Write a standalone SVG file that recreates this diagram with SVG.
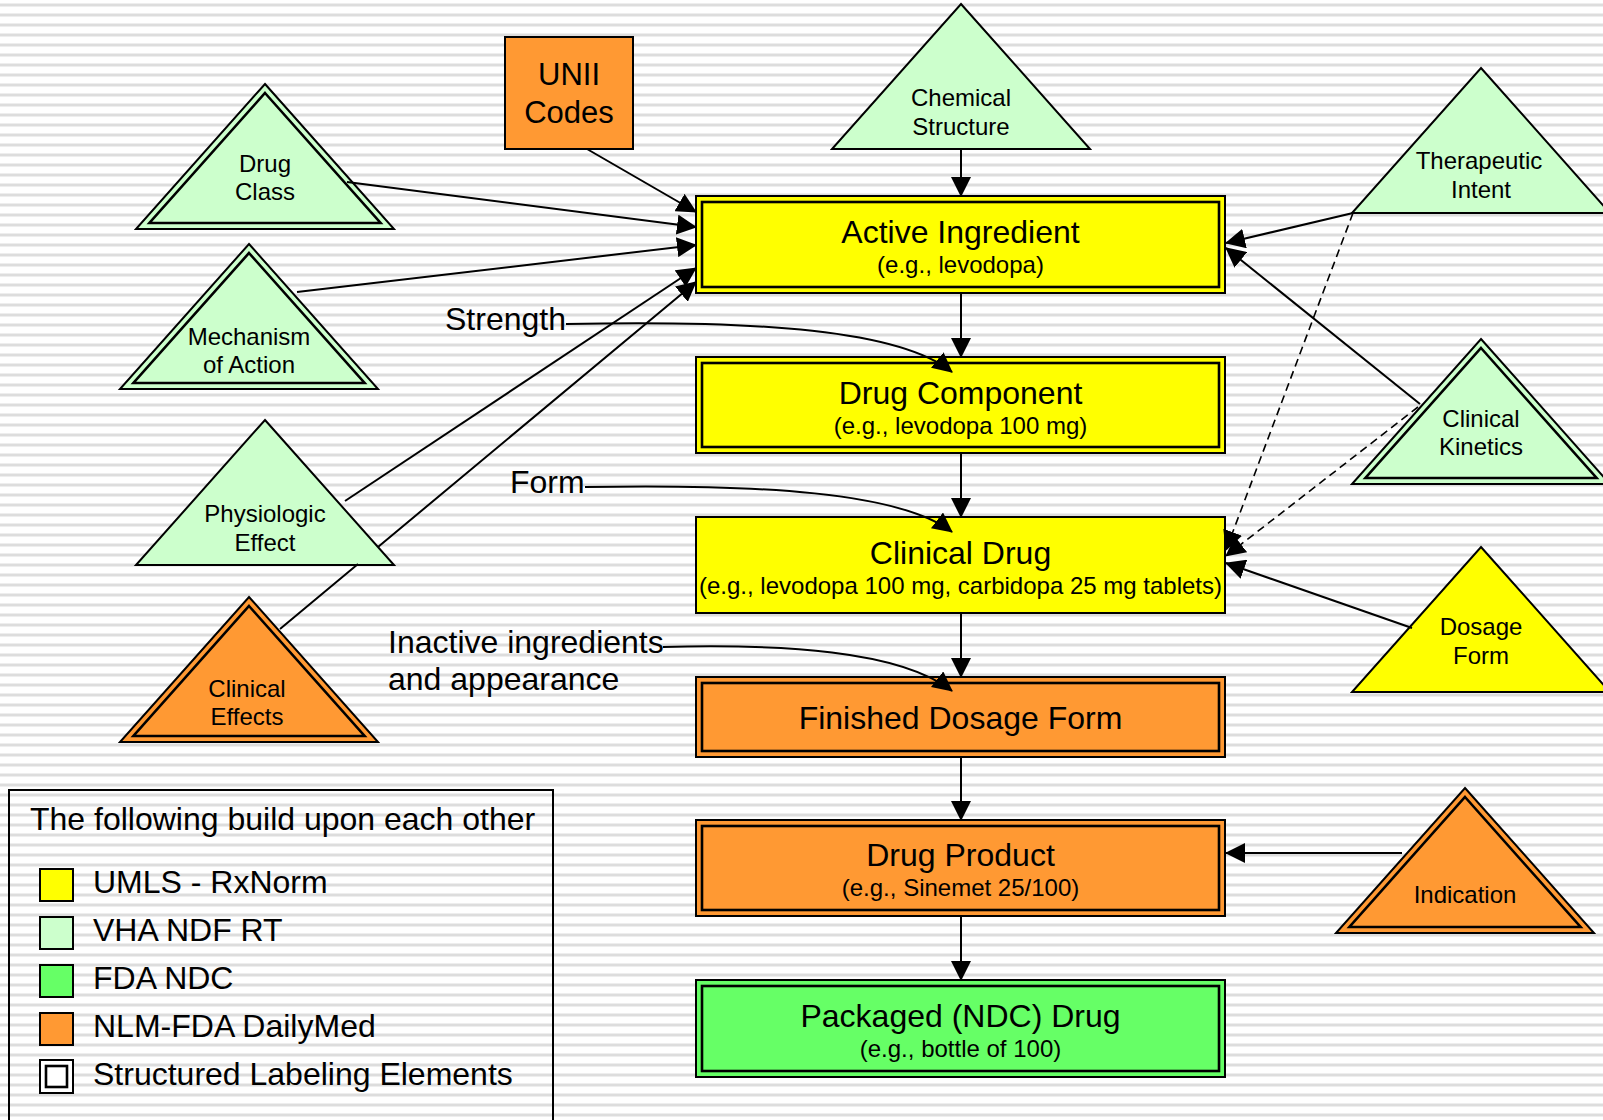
<svg xmlns="http://www.w3.org/2000/svg" xmlns:xlink="http://www.w3.org/1999/xlink" width="1603" height="1120" viewBox="0 0 1603 1120">
  <style>
    text { font-family: "Liberation Sans", Arial, sans-serif; fill: #000; }
    .t32 { font-size: 32px; }
    .t24 { font-size: 24px; }
    .t31 { font-size: 31px; }
    .mid { text-anchor: middle; }
    .edge { fill: none; stroke: #000; stroke-width: 2; }
    .dash { fill: none; stroke: #000; stroke-width: 1.6; stroke-dasharray: 8 5; }
    .outer { stroke: #000; stroke-width: 2; }
    .inner { fill: none; stroke: #000; stroke-width: 2.6; }
    .yellow { fill: #ffff00; }
    .mint { fill: #ccffcc; }
    .orange { fill: #ff9933; }
    .green { fill: #66ff66; }
  </style>
  <defs>
    <pattern id="stripes" width="10" height="10" patternUnits="userSpaceOnUse">
      <rect width="10" height="10" fill="#ffffff"/>
      <rect y="3" width="10" height="1" fill="#eeeeee"/>
      <rect y="4" width="10" height="2" fill="#dddddd"/>
      <rect y="6" width="10" height="1" fill="#eeeeee"/>
    </pattern>
    <marker id="arrow" viewBox="0 0 20 20" markerWidth="20" markerHeight="20" refX="19" refY="10" orient="auto" markerUnits="userSpaceOnUse">
      <path d="M0,0 L20,10 L0,20 Z" fill="#000"/>
    </marker>
    <!-- triangle shapes, origin at the apex -->
    <path id="tri" d="M0,0 L129,145 L-129,145 Z"/>
    <path id="tri-in" d="M0,9 L115.6,139 L-115.6,139 Z"/>
  </defs>

  <rect width="1603" height="1120" fill="url(#stripes)"/>

  <!-- left-side source triangles -->
  <g id="drug-class" transform="translate(265,84)">
    <use xlink:href="#tri" class="mint outer"/>
    <use xlink:href="#tri-in" class="inner"/>
    <text class="t24 mid" x="0" y="88">Drug</text>
    <text class="t24 mid" x="0" y="116">Class</text>
  </g>
  <g id="mechanism-of-action" transform="translate(249,244)">
    <use xlink:href="#tri" class="mint outer"/>
    <use xlink:href="#tri-in" class="inner"/>
    <text class="t24 mid" x="0" y="101">Mechanism</text>
    <text class="t24 mid" x="0" y="129">of Action</text>
  </g>
  <g id="physiologic-effect" transform="translate(265,420)">
    <use xlink:href="#tri" class="mint outer"/>
    <text class="t24 mid" x="0" y="102">Physiologic</text>
    <text class="t24 mid" x="0" y="131">Effect</text>
  </g>
  <g id="clinical-effects" transform="translate(249,597)">
    <use xlink:href="#tri" class="orange outer"/>
    <use xlink:href="#tri-in" class="inner"/>
    <text class="t24 mid" x="-2" y="100">Clinical</text>
    <text class="t24 mid" x="-2" y="128">Effects</text>
  </g>

  <g id="unii-codes">
    <rect x="505" y="37" width="128" height="112" class="orange outer"/>
    <text class="t31 mid" x="569" y="85">UNII</text>
    <text class="t31 mid" x="569" y="123">Codes</text>
  </g>

  <g id="chemical-structure" transform="translate(961,4)">
    <use xlink:href="#tri" class="mint outer"/>
    <text class="t24 mid" x="0" y="102">Chemical</text>
    <text class="t24 mid" x="0" y="131">Structure</text>
  </g>

  <!-- right-side source triangles -->
  <g id="therapeutic-intent" transform="translate(1481,68)">
    <use xlink:href="#tri" class="mint outer"/>
    <text class="t24 mid" x="-2" y="101">Therapeutic</text>
    <text class="t24 mid" x="0" y="130">Intent</text>
  </g>
  <g id="clinical-kinetics" transform="translate(1481,339)">
    <use xlink:href="#tri" class="mint outer"/>
    <use xlink:href="#tri-in" class="inner"/>
    <text class="t24 mid" x="0" y="88">Clinical</text>
    <text class="t24 mid" x="0" y="116">Kinetics</text>
  </g>
  <g id="dosage-form" transform="translate(1481,547)">
    <use xlink:href="#tri" class="yellow outer"/>
    <text class="t24 mid" x="0" y="88">Dosage</text>
    <text class="t24 mid" x="0" y="117">Form</text>
  </g>
  <g id="indication" transform="translate(1465,788)">
    <use xlink:href="#tri" class="orange outer"/>
    <use xlink:href="#tri-in" class="inner"/>
    <text class="t24 mid" x="0" y="115">Indication</text>
  </g>

  <!-- central chain of concepts -->
  <g id="active-ingredient">
    <rect x="696" y="196" width="529" height="97" class="yellow outer"/>
    <rect x="702" y="202" width="517" height="85" class="inner"/>
    <text class="t32 mid" x="960.5" y="243">Active Ingredient</text>
    <text class="t24 mid" x="960.5" y="273">(e.g., levodopa)</text>
  </g>
  <g id="drug-component">
    <rect x="696" y="357" width="529" height="96" class="yellow outer"/>
    <rect x="702" y="363" width="517" height="84" class="inner"/>
    <text class="t32 mid" x="960.5" y="404">Drug Component</text>
    <text class="t24 mid" x="960.5" y="434">(e.g., levodopa 100 mg)</text>
  </g>
  <g id="clinical-drug">
    <rect x="696" y="517" width="529" height="96" class="yellow outer" stroke-width="2.4"/>
    <text class="t32 mid" x="960.5" y="564">Clinical Drug</text>
    <text class="t24 mid" x="960.5" y="594">(e.g., levodopa 100 mg, carbidopa 25 mg tablets)</text>
  </g>
  <g id="finished-dosage-form">
    <rect x="696" y="677" width="529" height="80" class="orange outer"/>
    <rect x="702" y="683" width="517" height="68" class="inner"/>
    <text class="t32 mid" x="960.5" y="729">Finished Dosage Form</text>
  </g>
  <g id="drug-product">
    <rect x="696" y="820" width="529" height="96" class="orange outer"/>
    <rect x="702" y="826" width="517" height="84" class="inner"/>
    <text class="t32 mid" x="960.5" y="866">Drug Product</text>
    <text class="t24 mid" x="960.5" y="896">(e.g., Sinemet 25/100)</text>
  </g>
  <g id="packaged-drug">
    <rect x="696" y="980" width="529" height="97" class="green outer"/>
    <rect x="702" y="986" width="517" height="85" class="inner"/>
    <text class="t32 mid" x="960.5" y="1027">Packaged (NDC) Drug</text>
    <text class="t24 mid" x="960.5" y="1057">(e.g., bottle of 100)</text>
  </g>

  <!-- attribute labels feeding the chain -->
  <g id="strength-label"><text class="t32" x="445" y="330">Strength</text></g>
  <g id="form-label"><text class="t32" x="510" y="493">Form</text></g>
  <g id="inactive-label">
    <text class="t32" x="388" y="653">Inactive ingredients</text>
    <text class="t32" x="388" y="690">and appearance</text>
  </g>

  <g id="connectors">
    <!-- chain -->
    <path class="edge" d="M961,149 L961,196" marker-end="url(#arrow)"/>
    <path class="edge" d="M961,293 L961,357" marker-end="url(#arrow)"/>
    <path class="edge" d="M961,453 L961,517" marker-end="url(#arrow)"/>
    <path class="edge" d="M961,613 L961,677" marker-end="url(#arrow)"/>
    <path class="edge" d="M961,757 L961,820" marker-end="url(#arrow)"/>
    <path class="edge" d="M961,916 L961,980" marker-end="url(#arrow)"/>
    <!-- into Active Ingredient from the left -->
    <path class="edge" d="M587,149 L696,212" marker-end="url(#arrow)"/>
    <path class="edge" d="M347,182 L696,227" marker-end="url(#arrow)"/>
    <path class="edge" d="M297,292 L696,245" marker-end="url(#arrow)"/>
    <path class="edge" d="M345,501 L696,268" marker-end="url(#arrow)"/>
    <path class="edge" d="M280,629 L358,564 M378,547 L696,282" marker-end="url(#arrow)"/>
    <!-- attribute curves -->
    <path class="edge" d="M566,324 C760,320 900,330 952,372" marker-end="url(#arrow)"/>
    <path class="edge" d="M585,487 C760,484 900,492 952,532" marker-end="url(#arrow)"/>
    <path class="edge" d="M663,647 C780,644 900,650 952,691" marker-end="url(#arrow)"/>
    <!-- right side -->
    <path class="edge" d="M1353,213 L1226,243" marker-end="url(#arrow)"/>
    <path class="edge" d="M1420,404 L1226,248" marker-end="url(#arrow)"/>
    <path class="dash" d="M1353,213 L1226,550" marker-end="url(#arrow)"/>
    <path class="dash" d="M1418,407 L1226,556" marker-end="url(#arrow)"/>
    <path class="edge" d="M1412,628 L1226,563" marker-end="url(#arrow)"/>
    <path class="edge" d="M1402,853 L1226,853" marker-end="url(#arrow)"/>
  </g>

  <!-- legend -->
  <g id="legend">
    <rect x="9" y="790" width="544" height="340" fill="none" stroke="#000" stroke-width="2"/>
    <text class="t32" x="30" y="830">The following build upon each other</text>
    <rect x="40" y="869" width="33" height="32" class="yellow outer"/>
    <text class="t32" x="93" y="893">UMLS - RxNorm</text>
    <rect x="40" y="917" width="33" height="32" class="mint outer"/>
    <text class="t32" x="93" y="941">VHA NDF RT</text>
    <rect x="40" y="965" width="33" height="32" class="green outer"/>
    <text class="t32" x="93" y="989">FDA NDC</text>
    <rect x="40" y="1013" width="33" height="32" class="orange outer"/>
    <text class="t32" x="93" y="1037">NLM-FDA DailyMed</text>
    <rect x="40" y="1060" width="33" height="33" fill="#fff" class="outer"/>
    <rect x="46" y="1066" width="21" height="21" class="inner"/>
    <text class="t32" x="93" y="1085">Structured Labeling Elements</text>
  </g>
</svg>
